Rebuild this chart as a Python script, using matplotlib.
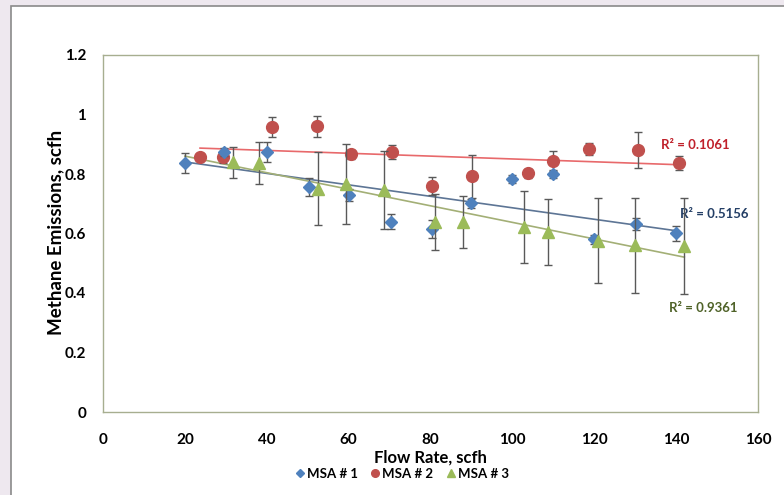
import matplotlib
matplotlib.use("Agg")
import matplotlib.pyplot as plt
import numpy as np
from matplotlib.patches import Rectangle
from matplotlib.lines import Line2D

plt.rcParams['font.family'] = ['Lato', 'DejaVu Sans']

# ---- data ----
msa1_x = [20, 29.6, 40, 50.4, 60.1, 70.4, 80.4, 90, 100, 110, 120, 130.3, 140]
msa1_y = [0.837, 0.874, 0.874, 0.756, 0.729, 0.639, 0.615, 0.702, 0.783, 0.800, 0.580, 0.632, 0.601]
msa1_err = [0.035, 0.015, 0.033, 0.03, 0.02, 0.025, 0.03, 0.015, 0.012, 0.015, 0.015, 0.02, 0.025]

msa2_x = [23.7, 29.3, 41.3, 52.3, 60.6, 70.7, 80.4, 90.2, 103.7, 110, 118.6, 130.8, 140.6]
msa2_y = [0.857, 0.857, 0.958, 0.961, 0.867, 0.874, 0.760, 0.793, 0.803, 0.844, 0.884, 0.881, 0.837]
msa2_err = [0.01, 0.02, 0.035, 0.035, 0.015, 0.025, 0.03, 0.072, 0.015, 0.033, 0.02, 0.06, 0.025]

msa3_x = [31.8, 38.1, 52.6, 59.4, 68.7, 81.2, 88, 102.9, 108.6, 121, 130, 142]
msa3_y = [0.840, 0.837, 0.750, 0.766, 0.746, 0.639, 0.639, 0.622, 0.605, 0.575, 0.561, 0.558]
msa3_err = [0.052, 0.072, 0.123, 0.134, 0.13, 0.095, 0.087, 0.121, 0.111, 0.143, 0.16, 0.16]

r2_labels = ["R² = 0.1061", "R² = 0.5156", "R² = 0.9361"]
x_ticks = [0, 20, 40, 60, 80, 100, 120, 140, 160]
y_ticks = [0, 0.2, 0.4, 0.6, 0.8, 1.0, 1.2]
y_tick_labels = ["0", "0.2", "0.4", "0.6", "0.8", "1", "1.2"]
series_names = ["MSA # 1", "MSA # 2", "MSA # 3"]

# ---- figure ----
fig = plt.figure(figsize=(7.84, 4.95), dpi=100)
fig.patch.set_facecolor('#EEE8EF')
fig.patches.append(Rectangle((11/784, -0.01), 1, 1.01 - 6/495, transform=fig.transFigure,
                             facecolor='white', edgecolor='#8A8A8A', lw=1.2, zorder=-10))

ax = fig.add_axes([103/784, 1 - 412/495, (758-103)/784, (412-55)/495])
ax.set_zorder(1)
ax.set_facecolor('white')

blue, red, green = '#4F81BD', '#C0504D', '#9BBB59'
ecol = '#595959'

ax.errorbar(msa1_x, msa1_y, yerr=msa1_err, fmt='D', color=blue, ms=6, ecolor=ecol,
            elinewidth=1, capsize=3, capthick=1, zorder=4, label=series_names[0])
ax.errorbar(msa2_x, msa2_y, yerr=msa2_err, fmt='o', color=red, ms=8.5, ecolor=ecol,
            elinewidth=1, capsize=3, capthick=1, zorder=3, label=series_names[1])
ax.errorbar(msa3_x, msa3_y, yerr=msa3_err, fmt='^', color=green, ms=8, ecolor=ecol,
            elinewidth=1, capsize=3, capthick=1, zorder=5, label=series_names[2])

# trendlines (least squares fits)
def trend(xs, ys, x0, x1, c):
    p = np.polyfit(xs, ys, 1)
    xx = np.array([x0, x1])
    ax.plot(xx, np.polyval(p, xx), color=c, lw=1.2, zorder=2)

trend(msa2_x, msa2_y, min(msa2_x), max(msa2_x), '#E8696B')
trend(msa1_x, msa1_y, min(msa1_x), max(msa1_x), '#5D7595')
trend(msa3_x, msa3_y, min(msa1_x), max(msa3_x), '#A3AF76')

ax.text(144.7, 0.897, r2_labels[0], color='#C0202A', fontsize=9.5, fontweight='bold',
        ha='center', va='center')
ax.text(149.4, 0.666, r2_labels[1], color='#243F66', fontsize=9.5, fontweight='bold',
        ha='center', va='center')
ax.text(146.7, 0.35, r2_labels[2], color='#4F6228', fontsize=9.5, fontweight='bold',
        ha='center', va='center')

ax.set_xlim(0, 160)
ax.set_ylim(0, 1.2)
ax.set_xticks(x_ticks)
ax.set_yticks(y_ticks)
ax.set_yticklabels(y_tick_labels)
ax.tick_params(length=0, labelsize=11)
ax.tick_params(axis='x', pad=15)
ax.tick_params(axis='y', pad=12)
for lab in ax.get_xticklabels() + ax.get_yticklabels():
    lab.set_fontweight('bold')
for s in ax.spines.values():
    s.set_color('#A7AE90')
    s.set_linewidth(1)

fig.text(430/784, 1 - 458/495, "Flow Rate, scfh", ha='center', va='center',
         fontsize=12, fontweight='bold')
fig.text(56/784, 1 - 232/495, "Methane Emissions, scfh", ha='center', va='center',
         rotation=90, fontsize=13.5, fontweight='bold')

handles = [Line2D([], [], marker='D', color=blue, ls='', ms=4),
           Line2D([], [], marker='o', color=red, ls='', ms=5.5),
           Line2D([], [], marker='^', color=green, ls='', ms=5.5)]
leg = fig.legend(handles, series_names, loc='center', bbox_to_anchor=(401/784, 1 - 474/495),
                 ncol=3, frameon=False, fontsize=9.5, handletextpad=0.05, columnspacing=0.8,
                 handlelength=1.0, borderpad=0)
for t in leg.get_texts():
    t.set_fontweight('bold')

fig.savefig('out.png', dpi=100, facecolor=fig.get_facecolor())
